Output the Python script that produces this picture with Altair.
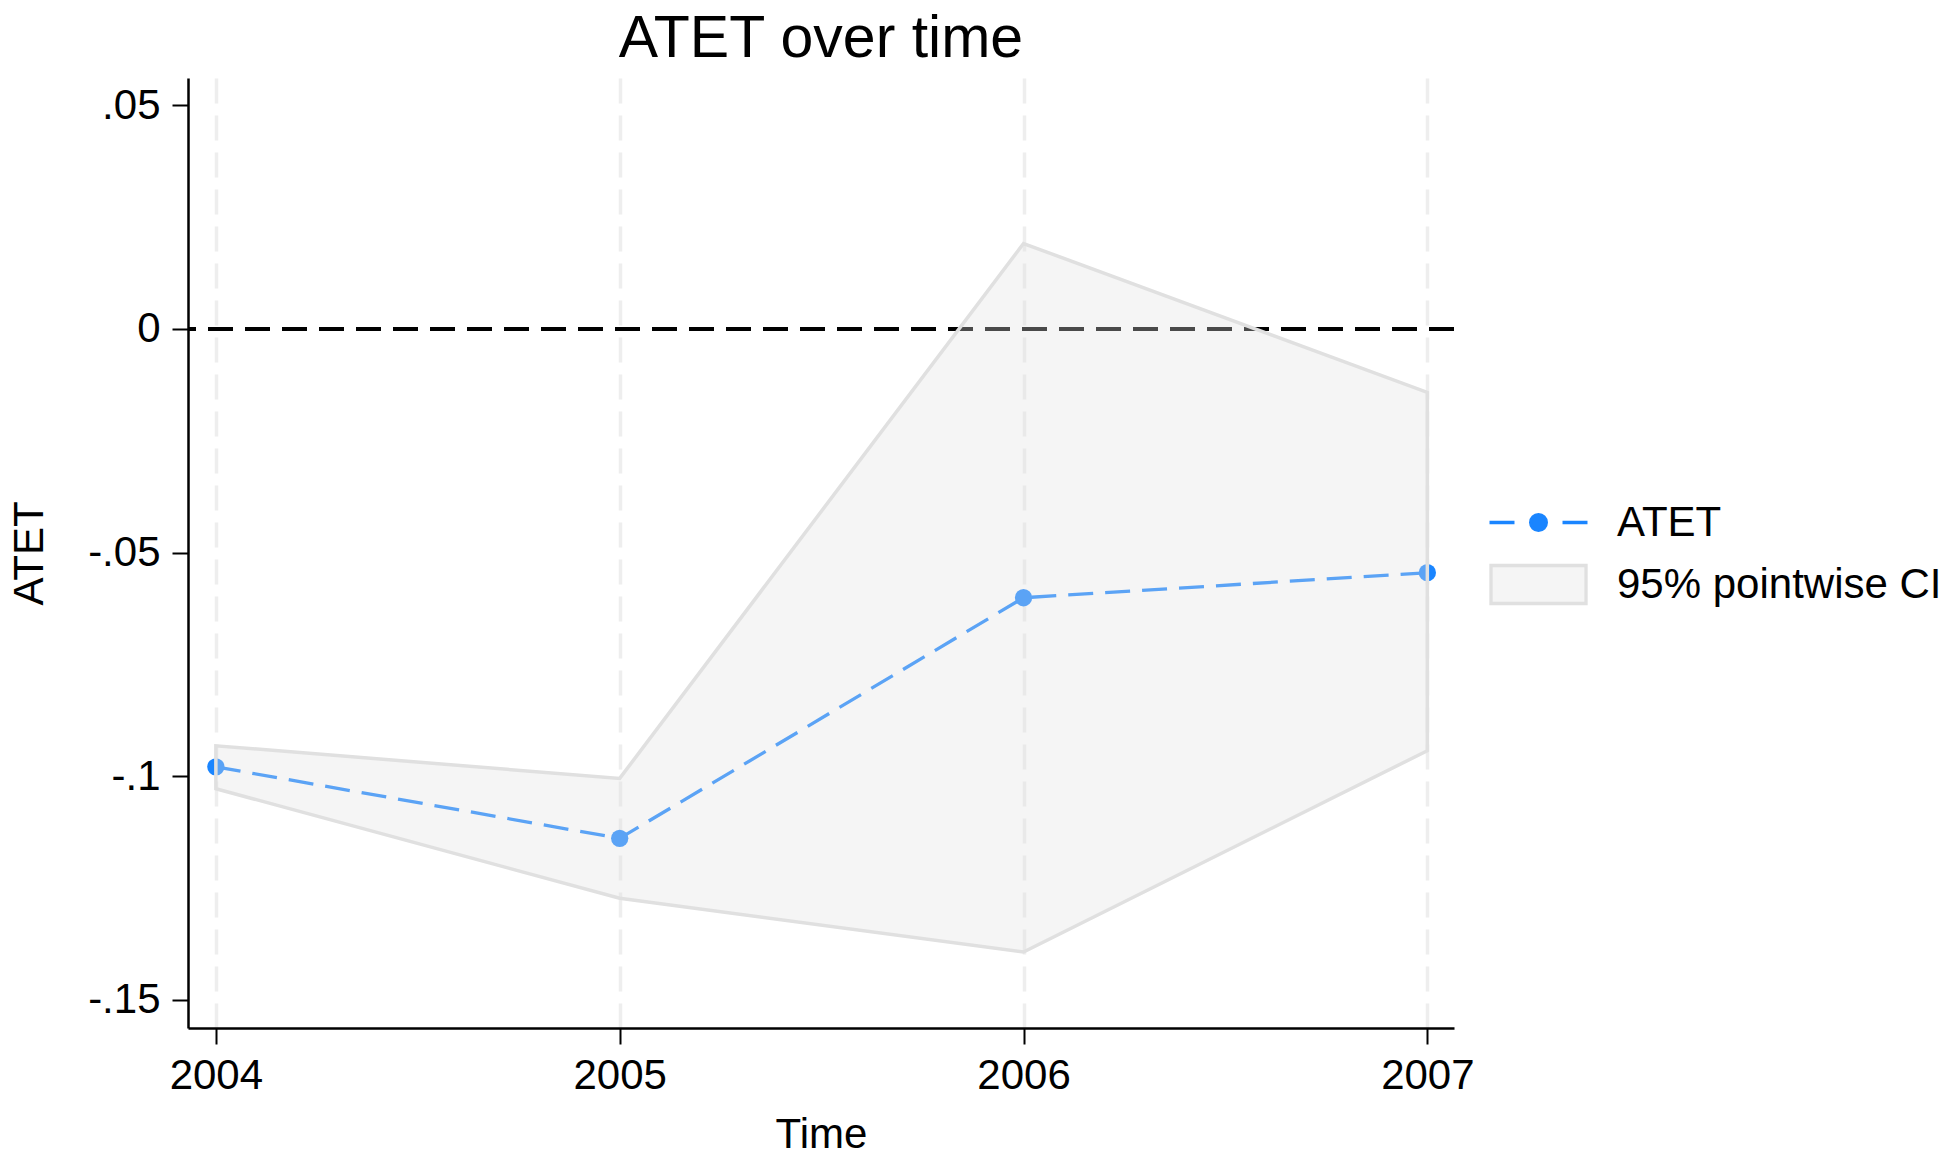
import altair as alt
import pandas as pd

# values
years = [2004, 2005, 2006, 2007]
atet = [-0.0979, -0.1139, -0.0601, -0.0545]
ci_lower = [-0.1028, -0.1273, -0.1393, -0.0943]
ci_upper = [-0.0932, -0.1005, 0.0191, -0.0142]

x_ticks = [2004, 2005, 2006, 2007]
y_ticks = [-0.15, -0.1, -0.05, 0, 0.05]
series_names = ["ATET", "95% pointwise CI"]

df = pd.DataFrame({"year": years, "atet": atet, "lo": ci_lower, "hi": ci_upper})
legend_df = pd.DataFrame({"series": series_names})

FONT = "Liberation Sans"
BLUE = "#1a85ff"
GREY = "#e0e0e0"
DASH = [25, 12]

x_enc = alt.X(
    "year:Q",
    scale=alt.Scale(domain=[2003.931, 2007.066], nice=False, zero=False),
    axis=alt.Axis(
        values=x_ticks, format="d", title="Time", labelFlush=False,
        tickSize=16, labelPadding=11.5,
        titleBaseline="alphabetic", titleY=119.4,
    ),
)
y_scale = alt.Scale(domain=[-0.1563, 0.0561], nice=False, zero=False)
# Stata style labels: ".05", "-.1"
y_axis = alt.Axis(
    values=y_ticks, title="ATET", labelFlush=False,
    labelExpr="replace(replace(format(datum.value, '~g'), '\u2212', '-'), '0.', '.')",
    tickSize=16, labelPadding=12,
    titleAngle=270, titleBaseline="alphabetic", titleX=-145.5, titleY=475,
)

zero = alt.Chart(df).mark_rule(color="black", strokeDash=DASH, strokeWidth=4).encode(
    y=alt.datum(0, scale=y_scale, axis=y_axis)
)

line = alt.Chart(df).mark_line(color=BLUE, strokeDash=DASH, strokeWidth=3.3).encode(
    x=x_enc, y=alt.Y("atet:Q", scale=y_scale, axis=y_axis)
)

points = alt.Chart(df).mark_point(filled=True, size=300, color=BLUE, opacity=1).encode(
    x=x_enc, y=alt.Y("atet:Q", scale=y_scale, axis=y_axis)
)

# CI band sits on top of the line, semi-transparent
band = alt.Chart(df).mark_area(
    fill=GREY, fillOpacity=0.33, stroke=GREY, strokeWidth=3.5, strokeOpacity=1
).encode(
    x=x_enc, y=alt.Y("lo:Q", scale=y_scale, axis=y_axis), y2="hi:Q"
)

# legend symbols: dashed line with a dot, and a framed box
atet_symbol = ("M-1.728,0H-0.847M0.847,0H1.728"
               "M0.277,0A0.277,0.277,0,1,1,-0.277,0A0.277,0.277,0,1,1,0.277,0Z")
ci_symbol = "M-1.676,-0.67H1.676V0.67H-1.676Z"

key = alt.Chart(legend_df).mark_point(filled=True, opacity=0).encode(
    fill=alt.Fill("series:N", title=None,
                  scale=alt.Scale(domain=series_names, range=[BLUE, "#f5f5f5"])),
    stroke=alt.Stroke("series:N", title=None,
                      scale=alt.Scale(domain=series_names, range=[BLUE, GREY])),
    shape=alt.Shape("series:N", title=None,
                    scale=alt.Scale(domain=series_names, range=[atet_symbol, ci_symbol])),
)

chart = alt.layer(zero, line, points, band, key).properties(
    width=1266,
    height=950,
    autosize=alt.AutoSizeParams(type="none"),
    padding={"left": 180, "top": 70, "right": 490, "bottom": 120},
    title=alt.TitleParams("ATET over time", fontSize=59, font=FONT,
                          fontWeight="normal", color="black", anchor="middle", offset=9),
).configure_view(
    stroke=None
).configure_axis(
    labelFont=FONT, labelFontSize=42, labelColor="black",
    titleFont=FONT, titleFontSize=42, titleFontWeight="normal", titleColor="black",
    domainColor="black", domainWidth=2.5, tickColor="black", tickWidth=2,
    gridColor="#eeeeee", gridDash=DASH, gridWidth=3.5,
).configure_legend(
    orient="none", legendX=1320, legendY=414, padding=0, rowPadding=10,
    symbolSize=3215, symbolStrokeWidth=3.3, symbolOpacity=1,
    symbolFillColor="#f5f5f5", symbolStrokeColor=GREY,
    labelFont=FONT, labelFontSize=42, labelColor="black", labelLimit=600, labelOffset=48,
)

chart.save("out.html", embed_options={"renderer": "svg", "actions": False})
